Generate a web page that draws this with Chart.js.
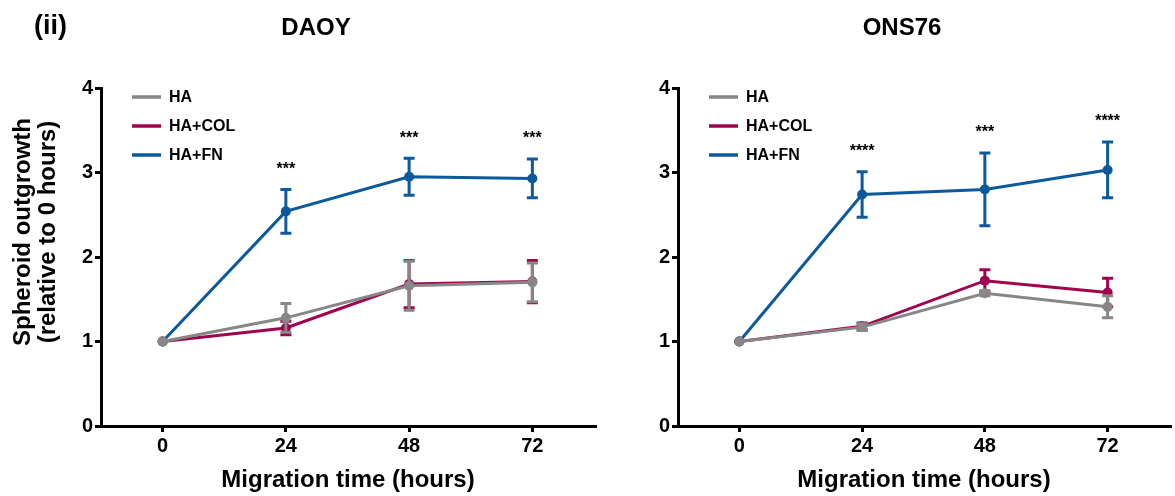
<!DOCTYPE html>
<html><head><meta charset="utf-8">
<script src="https://cdn.jsdelivr.net/npm/chart.js@4"></script>
<style>
html,body{margin:0;padding:0;background:#fff;}
#wrap{position:relative;width:1175px;height:496px;overflow:hidden;background:#fff;}
canvas{position:absolute;top:0;}
</style></head><body>
<div id="wrap">
<canvas id="c1" width="600" height="496" style="left:0px"></canvas>
<canvas id="c2" width="575" height="496" style="left:600px"></canvas>
</div>
<script>
// ---------- data ----------
const hours = [0, 24, 48, 72];
const yTicks = [0, 1, 2, 3, 4];
const seriesNames = ['HA', 'HA+COL', 'HA+FN'];
const seriesColors = ['#878787', '#a0044f', '#0c5a9c'];

// DAOY
const daoyHA      = [1, 1.28, 1.66, 1.70];
const daoyHAErr   = [0, 0.17, 0.29, 0.23];
const daoyCOL     = [1, 1.16, 1.68, 1.71];
const daoyCOLErr  = [0, 0.08, 0.28, 0.25];
const daoyFN      = [1, 2.54, 2.95, 2.93];
const daoyFNErr   = [0, 0.26, 0.22, 0.23];
const daoySig     = ['', '***', '***', '***'];

// ONS76
const onsHA       = [1, 1.17, 1.57, 1.41];
const onsHAErr    = [0, 0.04, 0.03, 0.13];
const onsCOL      = [1, 1.18, 1.72, 1.58];
const onsCOLErr   = [0, 0.04, 0.13, 0.17];
const onsFN       = [1, 2.74, 2.80, 3.03];
const onsFNErr    = [0, 0.27, 0.43, 0.33];
const onsSig      = ['', '****', '***', '****'];

const yTitleLines = ['Spheroid outgrowth', '(relative to 0 hours)'];
const FONT = "'Liberation Sans', Arial, Helvetica, sans-serif";

function makeChart(canvasId, opt) {
  const values = [opt.ha, opt.col, opt.fn];
  const errs = [opt.haErr, opt.colErr, opt.fnErr];
  const datasets = values.map((vals, k) => ({
    label: seriesNames[k],
    data: hours.map((h, i) => ({ x: h, y: vals[i] })),
    borderColor: seriesColors[k],
    backgroundColor: seriesColors[k],
    pointBackgroundColor: seriesColors[k],
    pointBorderColor: seriesColors[k],
    pointRadius: 5,
    pointBorderWidth: 0,
    borderWidth: 3,
    tension: 0,
    clip: false
  }));

  const errorBars = {
    id: 'errorBars',
    afterDatasetDraw(chart, args) {
      const k = args.index;
      const xs = chart.scales.x, ys = chart.scales.y, ctx = chart.ctx;
      ctx.save();
      ctx.strokeStyle = seriesColors[k];
      ctx.lineWidth = 3;
      values[k].forEach((v, i) => {
        const e = errs[k][i];
        if (!e) return;
        const x = xs.getPixelForValue(hours[i]);
        const yT = ys.getPixelForValue(v + e), yB = ys.getPixelForValue(v - e);
        ctx.beginPath();
        ctx.moveTo(x, yT); ctx.lineTo(x, yB);
        ctx.moveTo(x - 5.5, yT); ctx.lineTo(x + 5.5, yT);
        ctx.moveTo(x - 5.5, yB); ctx.lineTo(x + 5.5, yB);
        ctx.stroke();
      });
      ctx.restore();
    }
  };

  const extras = {
    id: 'extras',
    afterDraw(chart) {
      const ctx = chart.ctx, ca = chart.chartArea;
      const xs = chart.scales.x, ys = chart.scales.y;
      ctx.save();
      // significance stars above HA+FN error bars
      ctx.fillStyle = '#000';
      ctx.font = 'bold 16px ' + FONT;
      ctx.textAlign = 'center';
      ctx.textBaseline = 'middle';
      opt.sig.forEach((s, i) => {
        if (!s) return;
        const x = xs.getPixelForValue(hours[i]);
        const y = ys.getPixelForValue(opt.fn[i] + opt.fnErr[i]) - 20;
        ctx.fillText(s, x, y);
      });
      // legend
      const rows = [97, 126, 155];
      seriesNames.forEach((n, k) => {
        ctx.strokeStyle = seriesColors[k];
        ctx.lineWidth = 3.5;
        ctx.beginPath();
        ctx.moveTo(ca.left + 31, rows[k]);
        ctx.lineTo(ca.left + 60, rows[k]);
        ctx.stroke();
        ctx.fillStyle = '#000';
        ctx.font = 'bold 16px ' + FONT;
        ctx.textAlign = 'left';
        ctx.fillText(n, ca.left + 68, rows[k] + 1);
      });
      // titles
      ctx.font = 'bold 24px ' + FONT;
      ctx.textAlign = 'center';
      ctx.fillText(opt.title, opt.titleX, 28);
      if (opt.panel) {
        ctx.font = 'bold 27px ' + FONT;
        ctx.textAlign = 'left';
        ctx.fillText(opt.panel, 34, 27);
      }
      // y-axis title
      if (opt.yTitle) {
        ctx.save();
        ctx.translate(23, 232);
        ctx.rotate(-Math.PI / 2);
        ctx.font = 'bold 24px ' + FONT;
        ctx.textAlign = 'center';
        opt.yTitle.forEach((t, j) => ctx.fillText(t, 0, j * 25));
        ctx.restore();
      }
      ctx.restore();
    }
  };

  return new Chart(document.getElementById(canvasId), {
    type: 'line',
    data: { datasets },
    plugins: [errorBars, extras],
    options: {
      responsive: false,
      animation: false,
      devicePixelRatio: 1,
      layout: { padding: { top: 88, right: 2, left: 0, bottom: 0 } },
      plugins: { legend: { display: false }, tooltip: { enabled: false }, title: { display: false } },
      scales: {
        x: {
          type: 'linear',
          min: -12, max: 84.2,
          afterBuildTicks: s => { s.ticks = hours.map(v => ({ value: v })); },
          afterFit: s => { s.height = 70; },
          ticks: { color: '#000', font: { family: FONT, size: 20, weight: 'bold' }, padding: 2, autoSkip: false, maxRotation: 0 },
          grid: { display: true, drawOnChartArea: false, drawTicks: true, tickLength: 6, color: '#000', lineWidth: 3 },
          border: { display: true, color: '#000', width: 3 },
          title: { display: true, text: 'Migration time (hours)', color: '#000', font: { family: FONT, size: 24, weight: 'bold', lineHeight: 1.2 }, padding: { top: 0, bottom: 1 } }
        },
        y: {
          type: 'linear',
          min: 0, max: 4,
          afterBuildTicks: s => { s.ticks = yTicks.map(v => ({ value: v })); },
          afterFit: s => { s.width = opt.yWidth; },
          ticks: { color: '#000', font: { family: FONT, size: 20, weight: 'bold' }, padding: 2 },
          grid: { display: true, drawOnChartArea: false, drawTicks: true, tickLength: 6, color: '#000', lineWidth: 3 },
          border: { display: true, color: '#000', width: 3 },
          title: { display: false }
        }
      }
    }
  });
}

makeChart('c1', {
  ha: daoyHA, haErr: daoyHAErr, col: daoyCOL, colErr: daoyCOLErr, fn: daoyFN, fnErr: daoyFNErr,
  sig: daoySig, title: 'DAOY', titleX: 316, panel: '(ii)', yWidth: 101, yTitle: yTitleLines
});
makeChart('c2', {
  ha: onsHA, haErr: onsHAErr, col: onsCOL, colErr: onsCOLErr, fn: onsFN, fnErr: onsFNErr,
  sig: onsSig, title: 'ONS76', titleX: 302, panel: null, yWidth: 78, yTitle: null
});
</script>
</body></html>
